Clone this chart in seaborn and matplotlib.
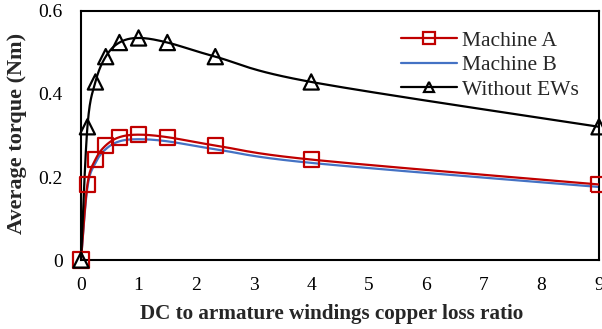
import numpy as np
import pandas as pd
import matplotlib
matplotlib.use("Agg")
import matplotlib.pyplot as plt
from matplotlib.lines import Line2D
import seaborn as sns

# DC-to-armature copper loss ratio (x) and average torque (Nm) per design
loss_ratio = [0, 0.111, 0.25, 0.429, 0.667, 1.0, 1.5, 2.333, 4.0, 9.0]
machine_a = [0, 0.182, 0.242, 0.276, 0.296, 0.302, 0.296, 0.276, 0.242, 0.182]
machine_b = [0, 0.175, 0.234, 0.267, 0.286, 0.291, 0.286, 0.267, 0.234, 0.176]
without_ews = [0, 0.321, 0.429, 0.490, 0.524, 0.535, 0.524, 0.490, 0.429, 0.321]

x_ticks = [0, 1, 2, 3, 4, 5, 6, 7, 8, 9]
y_ticks = [0, 0.2, 0.4, 0.6]
y_tick_labels = ["0", "0.2", "0.4", "0.6"]

RED = "#C00000"
BLUE = "#4472C4"
BLACK = "#000000"
SERIF = "Liberation Serif"


def smooth(xs, ys, n=30):
    """Spreadsheet-style smoothed line: cubic Bezier segments through the points."""
    p = np.column_stack([xs, ys]).astype(float)
    ext = np.vstack([p[0], p, p[-1]])
    out = []
    t = np.linspace(0, 1, n)[:, None]
    for i in range(len(p) - 1):
        p0, p1 = ext[i + 1], ext[i + 2]
        c1 = p0 + (ext[i + 2] - ext[i]) / 6.0
        c2 = p1 - (ext[i + 3] - ext[i + 1]) / 6.0
        seg = ((1 - t) ** 3) * p0 + 3 * ((1 - t) ** 2) * t * c1 + 3 * (1 - t) * t ** 2 * c2 + t ** 3 * p1
        out.append(seg if i == 0 else seg[1:])
    seg = np.vstack(out)
    return seg[:, 0], seg[:, 1]


sns.set_theme(style="white")
plt.rcParams["font.family"] = [SERIF, "DejaVu Serif"]

fig = plt.figure(figsize=(6.02, 3.29), dpi=100)
ax = fig.add_axes([0.1346, 0.2097, 0.8604, 0.7569])

series = [
    ("Machine A", machine_a, RED, "s"),
    ("Machine B", machine_b, BLUE, None),
    ("Without EWs", without_ews, BLACK, "^"),
]

# smoothed curves
for name, vals, color, marker in series:
    sx, sy = smooth(loss_ratio, vals)
    curve = pd.DataFrame({"x": sx, "y": sy})
    sns.lineplot(data=curve, x="x", y="y", ax=ax, color=color, lw=1.6,
                 sort=False, estimator=None, zorder=3 if name != "Machine B" else 2)

# hollow markers at the computed points
for name, vals, color, marker in series:
    if marker is None:
        continue
    pts = pd.DataFrame({"x": loss_ratio, "y": vals})
    sns.scatterplot(data=pts, x="x", y="y", ax=ax, marker=marker, s=120,
                    facecolor="none", edgecolor=color, linewidth=1.6, zorder=4,
                    clip_on=False)

ax.set_xlim(0, 9)
ax.set_ylim(0, 0.6)
ax.set_xticks(x_ticks)
ax.set_yticks(y_ticks)
ax.set_yticklabels(y_tick_labels)
ax.tick_params(direction="in", length=5, width=1.5, colors=BLACK,
               labelsize=14, pad=12)
ax.tick_params(axis="y", pad=13)
for lab in ax.get_xticklabels() + ax.get_yticklabels():
    lab.set_fontfamily(SERIF)

for sp in ax.spines.values():
    sp.set_visible(True)
    sp.set_color(BLACK)
    sp.set_linewidth(1.5)

ax.set_xlabel("DC to armature windings copper loss ratio", fontsize=15.2,
              fontweight="bold", family=SERIF)
ax.xaxis.set_label_coords(0.483, -0.175)
ax.set_ylabel("Average torque (Nm)", fontsize=16, fontweight="bold",
              family=SERIF)
ax.yaxis.set_label_coords(-0.104, 0.51)
ax.grid(False)

handles = [
    Line2D([], [], color=RED, lw=1.6, marker="s", markersize=8,
           markerfacecolor="none", markeredgecolor=RED, markeredgewidth=1.6),
    Line2D([], [], color=BLUE, lw=1.6),
    Line2D([], [], color=BLACK, lw=1.6, marker="^", markersize=7,
           markerfacecolor="none", markeredgecolor=BLACK, markeredgewidth=1.6),
]
ax.legend(handles, [s[0] for s in series], loc="upper right",
          bbox_to_anchor=(0.995, 0.99), frameon=False,
          handlelength=2.6, handletextpad=0.25, labelspacing=0.2,
          borderpad=0.3, prop={"family": SERIF, "size": 15.5})

fig.savefig("out.png", dpi=100)
